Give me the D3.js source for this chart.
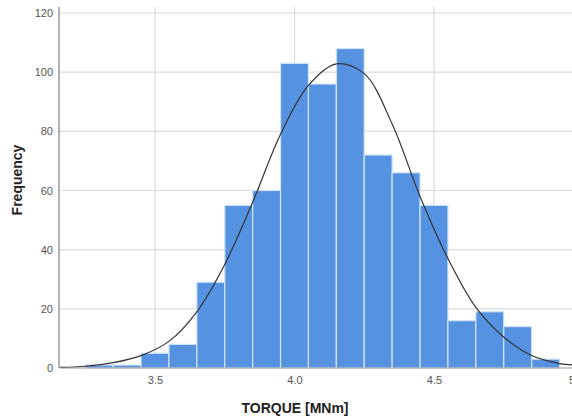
<!DOCTYPE html>
<html>
<head>
<meta charset="utf-8">
<script src="https://cdn.jsdelivr.net/npm/d3@7"></script>
<style>
  body { margin: 0; background: #fff; }
  svg { display: block; font-family: "Liberation Sans", Arial, sans-serif; }
  .tick text { fill: #555; font-size: 11px; }
</style>
</head>
<body>
<svg width="572" height="417"></svg>
<script>
// histogram bins (centre of each 0.1-wide bin) and their counts
var binCenters = [3.3, 3.4, 3.5, 3.6, 3.7, 3.8, 3.9, 4.0, 4.1, 4.2, 4.3, 4.4, 4.5, 4.6, 4.7, 4.8, 4.9];
var counts = [1, 1, 5, 8, 29, 55, 60, 103, 96, 108, 72, 66, 55, 16, 19, 14, 3];
var binWidth = 0.1;

// normal curve points
var curveX = [3.16, 3.25, 3.35, 3.45, 3.55, 3.65, 3.75, 3.85, 3.95, 4.05, 4.15, 4.25, 4.35, 4.45, 4.55, 4.65, 4.75, 4.85, 4.95, 5.0];
var curveY = [0.2, 0.6, 1.8, 4.2, 9, 19, 35, 56, 79, 95.5, 102.8, 99.5, 82.5, 58, 37, 20.5, 10.5, 4.2, 1.5, 1.0];

var xTicks = [3.5, 4.0, 4.5, 5];
var xTickLabels = ["3.5", "4.0", "4.5", "5"];
var yTicks = [0, 20, 40, 60, 80, 100, 120];

var svg = d3.select("svg");
var plotLeft = 59, plotRight = 573.5, plotTop = 13, plotBottom = 368;

var x = d3.scaleLinear().domain([3.156, 5.0]).range([plotLeft, plotRight]);
var y = d3.scaleLinear().domain([0, 120]).range([plotBottom, plotTop]);

// grid lines
svg.append("g")
  .selectAll("line")
  .data(yTicks.slice(1))
  .enter()
  .append("line")
    .attr("x1", plotLeft).attr("x2", 572)
    .attr("y1", d => y(d)).attr("y2", d => y(d))
    .attr("stroke", "#dadada").attr("stroke-width", 1.2)

svg.append("g")
  .selectAll("line")
  .data(xTicks)
  .enter()
  .append("line")
    .attr("x1", d => x(d)).attr("x2", d => x(d))
    .attr("y1", 7).attr("y2", plotBottom)
    .attr("stroke", "#dadada").attr("stroke-width", 1.2)

// bars
svg.append("g")
  .selectAll("rect")
  .data(binCenters)
  .enter()
  .append("rect")
    .attr("x", d => x(d - binWidth / 2))
    .attr("width", d => x(d + binWidth / 2) - x(d - binWidth / 2))
    .attr("y", (d, i) => y(counts[i]))
    .attr("height", (d, i) => plotBottom - y(counts[i]))
    .attr("fill", "#5592e2")
    .attr("stroke", "#d2e6f8")
    .attr("stroke-width", 1.2)

// normal curve
var line = d3.line()
  .x((d, i) => x(curveX[i]))
  .y(d => y(d))
  .curve(d3.curveCatmullRom)

svg.append("path")
  .attr("d", line(curveY))
  .attr("fill", "none")
  .attr("stroke", "#333")
  .attr("stroke-width", 1.2)

// axes
var yAxis = svg.append("g")
  .attr("transform", `translate(${plotLeft},0)`)
  .call(d3.axisLeft(y).tickValues(yTicks).tickSize(0).tickPadding(6))
yAxis.select(".domain").remove()

var xAxis = svg.append("g")
  .attr("transform", `translate(0,${plotBottom})`)
  .call(d3.axisBottom(x).tickValues(xTicks).tickFormat((d, i) => xTickLabels[i]).tickSize(0).tickPadding(8))
xAxis.select(".domain").remove()
// last label sits on the right edge, pull it in a little
xAxis.selectAll(".tick text").filter(d => d === 5).attr("dx", "-2")

svg.append("line")
  .attr("x1", plotLeft).attr("x2", plotLeft)
  .attr("y1", 7).attr("y2", plotBottom)
  .attr("stroke", "#9a9a9a").attr("stroke-width", 1.5)

svg.append("line")
  .attr("x1", plotLeft).attr("x2", 572)
  .attr("y1", plotBottom).attr("y2", plotBottom)
  .attr("stroke", "#9a9a9a").attr("stroke-width", 1.2)

// axis titles
svg.append("text")
  .attr("x", 295)
  .attr("y", 413)
  .attr("text-anchor", "middle")
  .style("font-size", "14px")
  .style("font-weight", "bold")
  .attr("fill", "#222")
  .text("TORQUE [MNm]")

svg.append("text")
  .attr("transform", "translate(22,180) rotate(-90)")
  .attr("text-anchor", "middle")
  .style("font-size", "14px")
  .style("font-weight", "bold")
  .attr("fill", "#222")
  .text("Frequency")
</script>
</body>
</html>
